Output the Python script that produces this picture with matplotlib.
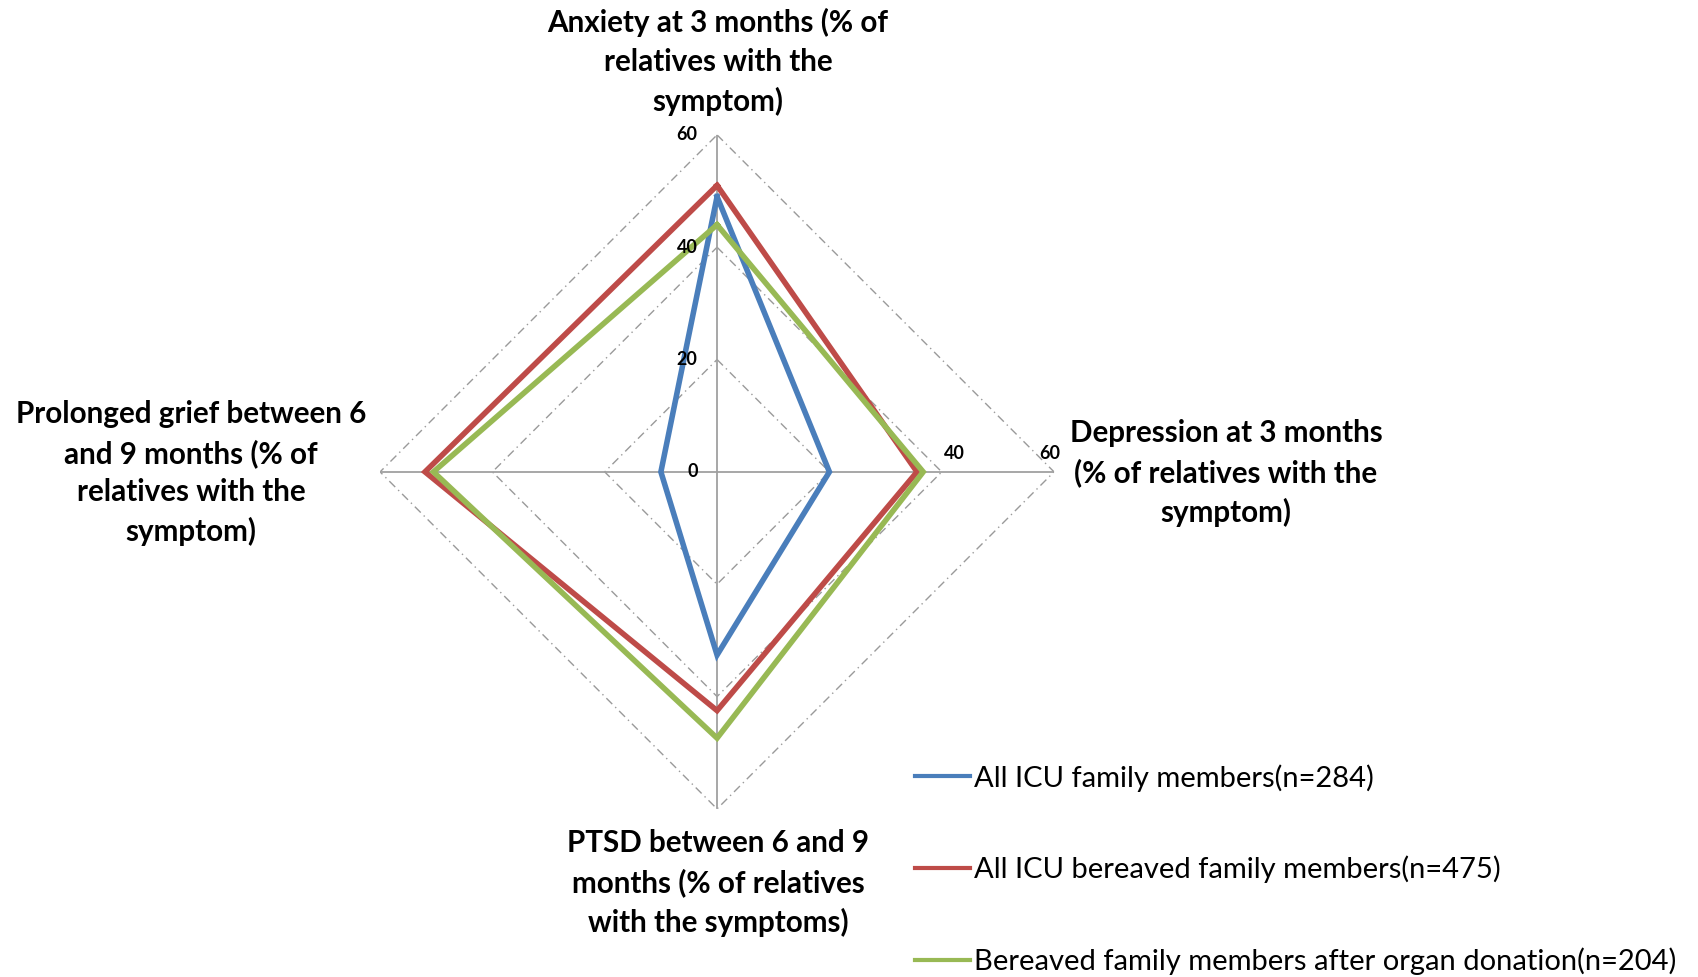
import numpy as np
import matplotlib.pyplot as plt
from matplotlib.transforms import offset_copy

plt.rcParams['font.family'] = ['Lato', 'DejaVu Sans']

categories = ['Anxiety at 3 months (% of\nrelatives with the\nsymptom)',
              'Depression at 3 months\n(% of relatives with the\nsymptom)',
              'PTSD between 6 and 9\nmonths (% of relatives\nwith the symptoms)',
              'Prolonged grief between 6\nand 9 months (% of\nrelatives with the\nsymptom)']
all_icu = [49, 20, 32.6, 10]
bereaved = [51, 35.6, 42.5, 52]
organ_donation = [44, 36.7, 47.4, 50.5]
series_names = ['All ICU family members(n=284)',
                'All ICU bereaved family members(n=475)',
                'Bereaved family members after organ donation(n=204)']
colors = ['#4A7EBB', '#BE4B48', '#98B954']
rticks = [0, 20, 40, 60]

fig = plt.figure(figsize=(16.99, 9.77), dpi=100)
ax = fig.add_axes([0.2237, 0.172, 0.3967, 0.690], projection='polar')
ax.set_theta_offset(np.pi / 2)
ax.set_theta_direction(-1)
ax.set_ylim(0, 60)
ax.grid(False)
ax.spines['polar'].set_visible(False)
ax.set_xticks([])
ax.set_yticks([])

theta = np.linspace(0, 2 * np.pi, len(categories), endpoint=False)
closed = np.append(theta, theta[0])

# polygon gridlines and spokes
for r in rticks[1:]:
    ax.plot(closed, [r] * len(closed), color='#9a9a9a', lw=1,
            linestyle=(0, (6, 3, 1, 3)), zorder=1)
for t in theta:
    ax.plot([t, t], [0, 60], color='#a0a0a0', lw=1.3, zorder=1)

for vals, name, c in zip([all_icu, bereaved, organ_donation], series_names, colors):
    ax.plot(closed, vals + vals[:1], color=c, lw=4, label=name, zorder=3,
            solid_joinstyle='miter')

# tick labels along the vertical axis
tr = offset_copy(ax.transData, fig=fig, x=-14, y=0, units='points')
for r in rticks:
    ax.text(0, r, str(r), transform=tr, ha='right', va='center',
            fontsize=13, fontweight='bold', zorder=4)
tr2 = offset_copy(ax.transData, fig=fig, x=9, y=13, units='points')
ax.text(theta[1], 40, '40', transform=tr2, ha='center', va='center',
        fontsize=13, fontweight='bold')
tr3 = offset_copy(ax.transData, fig=fig, x=-3, y=13, units='points')
ax.text(theta[1], 60, '60', transform=tr3, ha='center', va='center',
        fontsize=13, fontweight='bold')

# category labels
lab_kw = dict(ha='center', va='center', fontsize=21.3, fontweight='bold',
              linespacing=1.45)
fig.text(718 / 1699, 1 - 62 / 977, categories[0], **lab_kw)
fig.text(1226 / 1699, 1 - 473 / 977, categories[1], **lab_kw)
fig.text(718 / 1699, 1 - 883 / 977, categories[2], **lab_kw)
fig.text(191 / 1699, 1 - 473 / 977, categories[3], **lab_kw)

ax.legend(loc='upper left', bbox_to_anchor=(915 / 1699, 1 - 764 / 977),
          bbox_transform=fig.transFigure, frameon=False, fontsize=21,
          labelspacing=2.2, handlelength=1.9, handletextpad=0.12,
          borderpad=0, borderaxespad=0)
for line in ax.get_legend().get_lines():
    line.set_linewidth(3)

fig.savefig('out.png', dpi=100)
